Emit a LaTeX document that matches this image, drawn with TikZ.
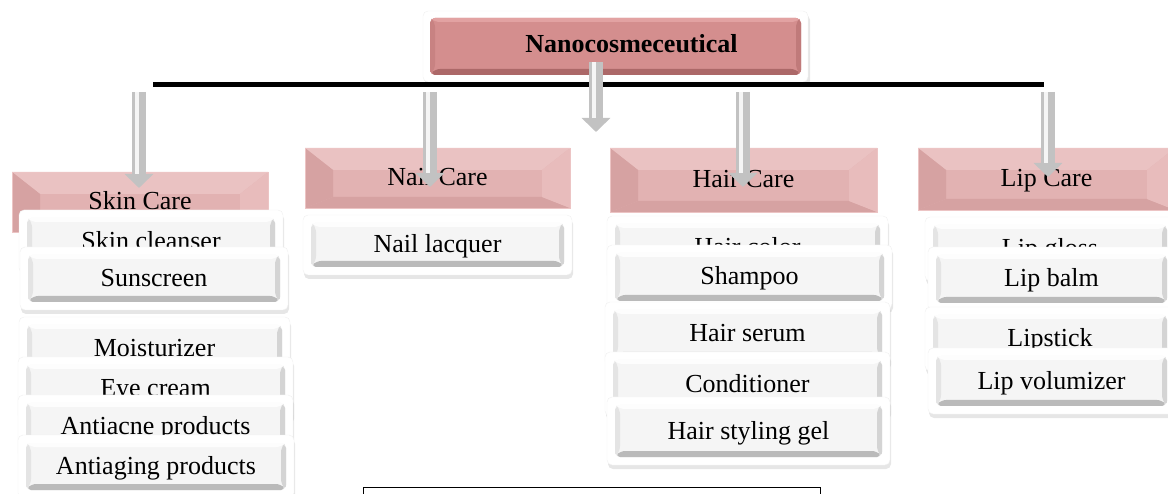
\documentclass[tikz,border=0pt]{standalone}
\usepackage{fontspec}
\setmainfont{Liberation Serif}
\usetikzlibrary{shadows,arrows.meta}

\definecolor{itemface}{RGB}{245,245,245}
\definecolor{itemtop}{RGB}{253,253,253}
\definecolor{itemleft}{RGB}{228,228,228}
\definecolor{itemright}{RGB}{212,212,212}
\definecolor{itembottom}{RGB}{186,186,186}
\definecolor{catface}{RGB}{226,178,178}
\definecolor{cattop}{RGB}{234,194,194}
\definecolor{catleft}{RGB}{214,162,162}
\definecolor{catright}{RGB}{232,188,188}
\definecolor{catbottom}{RGB}{214,162,162}
\definecolor{catedge}{RGB}{236,196,196}
\definecolor{rootface}{RGB}{212,142,142}
\definecolor{roottop}{RGB}{226,162,162}
\definecolor{rootleft}{RGB}{200,130,130}
\definecolor{rootright}{RGB}{192,122,122}
\definecolor{rootbottom}{RGB}{172,104,104}

% inset, side bevel, top bevel, bottom bevel, colour prefix
\newcommand\bevelbox[5]{%
  \coordinate (bvA) at ([shift={(#1,-#1)}]path picture bounding box.north west);
  \coordinate (bvB) at ([shift={(-#1,-#1)}]path picture bounding box.north east);
  \coordinate (bvC) at ([shift={(-#1,#1)}]path picture bounding box.south east);
  \coordinate (bvD) at ([shift={(#1,#1)}]path picture bounding box.south west);
  \coordinate (bva) at ([shift={(#2,-#3)}]bvA);
  \coordinate (bvb) at ([shift={(-#2,-#3)}]bvB);
  \coordinate (bvc) at ([shift={(-#2,#4)}]bvC);
  \coordinate (bvd) at ([shift={(#2,#4)}]bvD);
  \fill[#5face] (bvA) rectangle (bvC);
  \fill[#5top] (bvA) -- (bvB) -- (bvb) -- (bva) -- cycle;
  \fill[#5bottom] (bvD) -- (bvC) -- (bvc) -- (bvd) -- cycle;
  \fill[#5left] (bvA) -- (bva) -- (bvd) -- (bvD) -- cycle;
  \fill[#5right] (bvB) -- (bvb) -- (bvc) -- (bvC) -- cycle;
}
\newcommand\boxfont{\fontsize{26}{30}\selectfont}

\tikzset{
  itembox/.style={rectangle, rounded corners=5pt, fill=white, draw=gray!12,
    inner sep=0pt, minimum height=63pt, text height=20pt, text depth=4pt,
    font=\boxfont,
    drop shadow={shadow xshift=1pt, shadow yshift=-4pt, opacity=0.2},
    path picture={\bevelbox{8pt}{5pt}{4pt}{6pt}{item}}},
  catbox/.style={rectangle, draw=catedge, line width=0.6pt, inner sep=0pt,
    minimum height=61pt, text height=20pt, text depth=4pt, font=\boxfont,
    path picture={\bevelbox{0pt}{28pt}{22pt}{11pt}{cat}}},
  rootbox/.style={rectangle, rounded corners=5pt, fill=white, draw=gray!12,
    inner sep=0pt, text height=18pt, text depth=6pt, font=\boxfont\bfseries,
    drop shadow={shadow xshift=2pt, shadow yshift=-4pt, opacity=0.2},
    path picture={\bevelbox{7pt}{5pt}{4pt}{6pt}{root}}},
  grayarrow/.style={line width=14pt, draw=gray!48,
    -{Triangle[width=28pt,length=14pt]},
    postaction={draw=gray!8, line width=4pt, arrows=-, shorten >=14pt,
      transform canvas={xshift=-2pt}}},
}

\begin{document}
\begin{tikzpicture}[x=1pt,y=-1pt]
\useasboundingbox (0,0) rectangle (1168,494);
\clip (0,0) rectangle (1168,494);

% root and bar
\node[rootbox, minimum width=385pt, minimum height=71pt] (root) at (615.5,46.5) {\hspace*{32pt}Nanocosmeceutical};
\coordinate (barL) at (153,84.5);
\coordinate (barR) at (1044,84.5);
\draw[line width=5pt] (barL) -- (barR);

% categories
\node[catbox, minimum width=256pt, minimum height=60pt] (skin) at (140,202) {Skin Care};
\node[catbox, minimum width=265pt, minimum height=60pt] (nail) at (437.5,178) {Nail Care};
\node[catbox, minimum width=267pt, minimum height=64pt] (hair) at (743.5,180) {Hair Care};
\node[catbox, minimum width=257pt, minimum height=62pt] (lip) at (1046.5,179) {Lip Care};

% arrows
\coordinate (root-top) at (596,62);
\coordinate (root-tip) at (596,132);
\coordinate (skin-top) at (139,92);
\coordinate (skin-tip) at (139,188);
\coordinate (nail-top) at (430,92);
\coordinate (nail-tip) at (430,187);
\coordinate (hair-top) at (743,92);
\coordinate (hair-tip) at (743,187);
\coordinate (lip-top) at (1048,92);
\coordinate (lip-tip) at (1048,177);
\draw[grayarrow] (skin-top) -- (skin-tip);
\draw[grayarrow] (nail-top) -- (nail-tip);
\draw[grayarrow] (hair-top) -- (hair-tip);
\draw[grayarrow] (lip-top) -- (lip-tip);
\draw[grayarrow] (root-top) -- (root-tip);

% skin care items
\node[itembox, minimum width=264pt] (cleanser) at (151,241.5) {Skin cleanser};
\node[itembox, minimum width=268pt] (sunscreen) at (154,278.5) {Sunscreen};
\node[itembox, minimum width=271pt] (moisturizer) at (154.5,348.5) {Moisturizer};
\node[itembox, minimum width=275pt] (eyecream) at (155.5,388.5) {Eye cream};
\node[itembox, minimum width=275pt] (antiacne) at (155.5,426.5) {Antiacne products};
\node[itembox, minimum width=276pt] (antiaging) at (156,466.5) {Antiaging products};

% nail care items
\node[itembox, minimum width=269pt, minimum height=60pt] (lacquer) at (437.5,245) {Nail lacquer};

% hair care items
\node[itembox, minimum width=281pt, minimum height=64pt] (haircolor) at (747.5,248) {Hair color};
\node[itembox, minimum width=285pt, minimum height=64pt] (shampoo) at (749.5,277) {Shampoo};
\node[itembox, minimum width=285pt, minimum height=64pt] (serum) at (747.5,334) {Hair serum};
\node[itembox, minimum width=285pt, minimum height=64pt] (conditioner) at (747.5,384) {Conditioner};
\node[itembox, minimum width=283pt, minimum height=68pt] (stylinggel) at (748.5,431) {Hair styling gel};

% lip care items
\node[itembox, minimum width=250pt, minimum height=64pt] (lipgloss) at (1050,249) {Lip gloss};
\node[itembox, minimum width=247pt, minimum height=64pt] (lipbalm) at (1051.5,279) {Lip balm};
\node[itembox, minimum width=250pt, minimum height=64pt] (lipstick) at (1050,339) {Lipstick};
\node[itembox, minimum width=247pt, minimum height=66pt] (volumizer) at (1051.5,381) {Lip volumizer};

% caption frame
\draw[line width=1pt] (363,487) rectangle (820,510);
\end{tikzpicture}
\end{document}
